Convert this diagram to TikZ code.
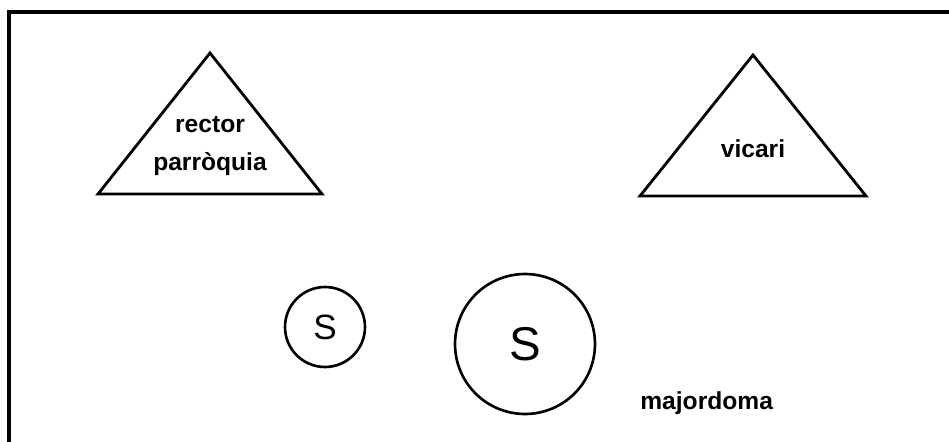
\documentclass[tikz,border=0pt]{standalone}
\usepackage{fontspec}
\setmainfont{Liberation Sans}
\usetikzlibrary{positioning}

\begin{document}
\begin{tikzpicture}[x=0.02cm,y=-0.02cm,
        lbl/.style={font=\bfseries\fontsize{14}{22}\selectfont,align=center,inner sep=0pt},
        soci/.style={circle,draw,line width=1.5pt,inner sep=0pt},
        tri/.style={line width=1.6pt,line join=miter}]
    \useasboundingbox (0,0) rectangle (949,442);
    % marc
    \draw[line width=1.8pt] (949,12) -- (9,12) -- (9,442);
    % triangles
    \coordinate (ra) at (210,53);
    \coordinate (rl) at (98,194);
    \coordinate (rr) at (322,194);
    \draw[tri] (ra) -- (rl) -- (rr) -- cycle;
    \coordinate (va) at (753,55);
    \coordinate (vl) at (640,196);
    \coordinate (vr) at (866,196);
    \draw[tri] (va) -- (vl) -- (vr) -- cycle;
    \node[lbl] (rector) at (210,146) {rector\\parròquia};
    \node[lbl] (vicari) at (753,149) {vicari};
    % cercles
    \node[soci,minimum size=1.6cm,font=\fontsize{20}{22}\selectfont] (s1) at (325,327) {S};
    \node[soci,minimum size=2.8cm,font=\fontsize{27}{30}\selectfont] (s2) at (525,344) {S};
    \node[lbl,anchor=west] (major) at (640,403) {majordoma};
\end{tikzpicture}
\end{document}
